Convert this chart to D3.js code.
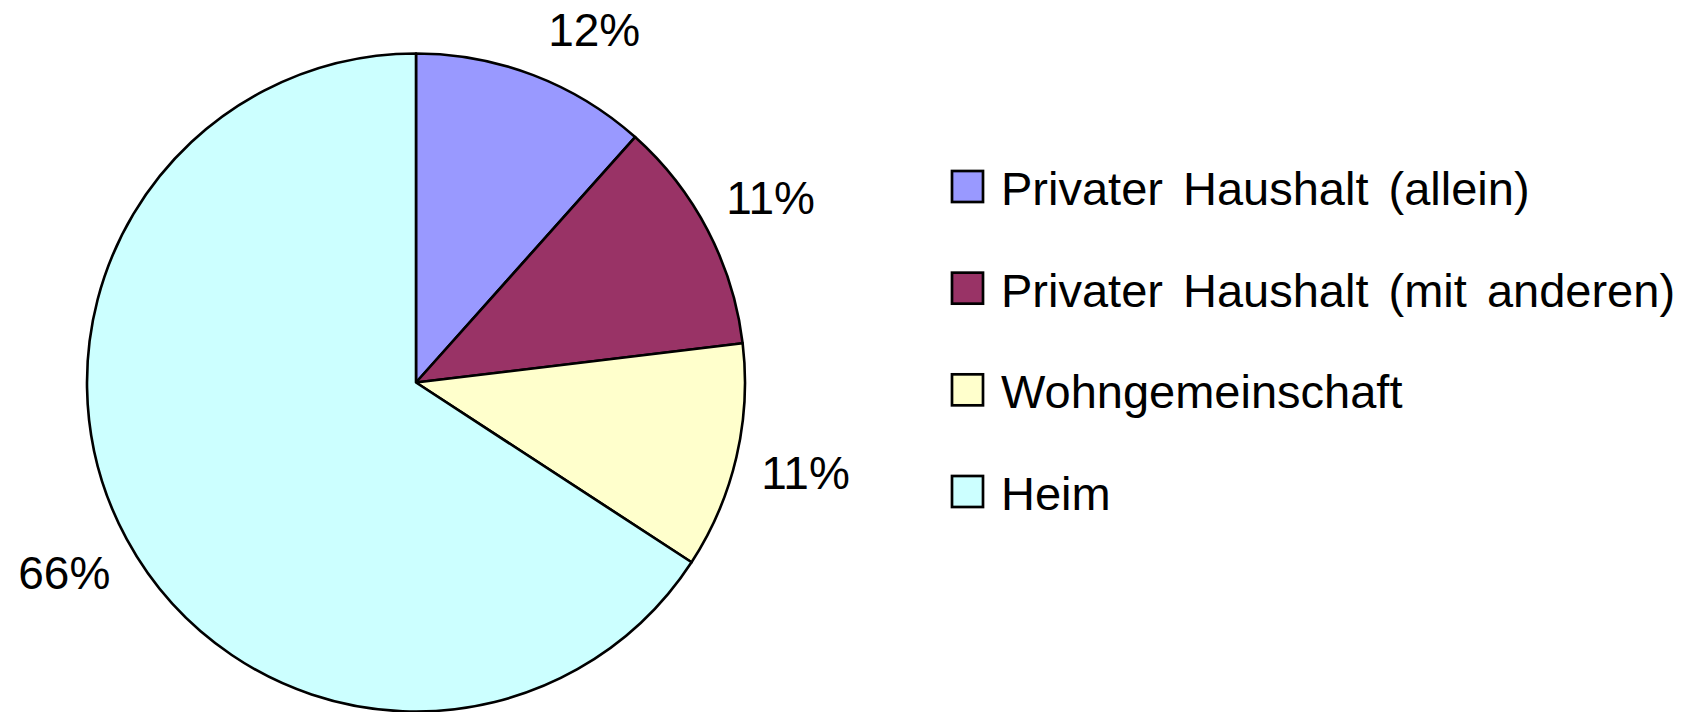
<!DOCTYPE html>
<html>
<head>
<meta charset="utf-8">
<script src="https://cdn.jsdelivr.net/npm/d3@7"></script>
<style>
  body { margin: 0; background: #fff; }
  svg { display: block; font-family: "Liberation Sans", Arial, sans-serif; }
</style>
</head>
<body>
<svg id="chart"></svg>
<script>
// categories, shares and printed labels
var categories = ["Privater Haushalt (allein)", "Privater Haushalt (mit anderen)", "Wohngemeinschaft", "Heim"];
var shares = [11.6, 11.5, 11.1, 65.8];
var shareLabels = ["12%", "11%", "11%", "66%"];
var colours = ["#9999FF", "#993366", "#FFFFCC", "#CCFFFF"];

var w = 1688, h = 712;
var cx = 416, cy = 382.5, radius = 329;
var labelRadius = 400;

var svg = d3.select("#chart").attr("width", w).attr("height", h);

var pie = d3.pie().sort(null).value(function(d) { return d; });
var arc = d3.arc().innerRadius(0).outerRadius(radius);
var labelArc = d3.arc().innerRadius(labelRadius).outerRadius(labelRadius);

var arcs = pie(shares);

var g = svg.append("g").attr("transform", "translate(" + cx + "," + cy + ")");

g.selectAll("path")
  .data(arcs)
  .enter()
  .append("path")
  .attr("d", arc)
  .attr("fill", function(d, i) { return colours[i]; })
  .attr("stroke", "#000")
  .attr("stroke-width", 2.6)
  .attr("stroke-linejoin", "round");

// percentage labels around the pie, pushed down if they hit the top edge
g.selectAll("text.pct")
  .data(arcs)
  .enter()
  .append("text")
  .attr("class", "pct")
  .attr("text-anchor", "middle")
  .attr("font-size", 46)
  .attr("fill", "#000")
  .attr("transform", function(d) {
    var c = labelArc.centroid(d);
    var minY = 30 - cy;
    if (c[1] < minY) {
      var r2 = labelRadius - 5;
      c[1] = minY;
      c[0] = Math.sqrt(r2 * r2 - minY * minY) * (c[0] < 0 ? -1 : 1);
    }
    return "translate(" + c[0] + "," + (c[1] + 16) + ")";
  })
  .text(function(d, i) { return shareLabels[i]; });

// legend
var legendY = d3.scalePoint().domain(categories).range([205, 510]);

var legend = svg.append("g").selectAll("g")
  .data(categories)
  .enter()
  .append("g")
  .attr("transform", function(d) { return "translate(952," + legendY(d) + ")"; });

legend.append("rect")
  .attr("x", 0)
  .attr("y", -34)
  .attr("width", 31)
  .attr("height", 31)
  .attr("fill", function(d, i) { return colours[i]; })
  .attr("stroke", "#000")
  .attr("stroke-width", 2.7);

legend.append("text")
  .attr("x", 49)
  .attr("y", 0)
  .attr("font-size", 47)
  .attr("word-spacing", 7)
  .attr("fill", "#000")
  .text(function(d) { return d; });
</script>
</body>
</html>
